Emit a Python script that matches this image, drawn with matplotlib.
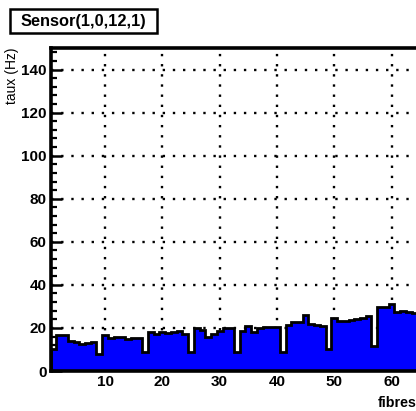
import matplotlib
matplotlib.use("Agg")
import matplotlib.pyplot as plt
import numpy as np
from matplotlib.ticker import MultipleLocator
from matplotlib.patches import Rectangle

# ---- data ----
fibres = list(range(1, 65))
taux = [10, 16.5, 16.5, 14, 13.5, 12.5, 13, 13.5,
        8, 16.5, 15.5, 15.7, 15.7, 15, 15.5, 15.5,
        9, 18, 17, 18, 17.5, 18, 18.5, 17.3,
        9, 20, 19, 16, 17.3, 18.8, 20, 20,
        8.7, 18.8, 20.8, 18, 19.8, 20.3, 20.3, 20.3,
        9, 21.4, 22.6, 22.6, 26, 21.9, 21.4, 20.8,
        10, 24.5, 23, 23.4, 23.7, 24.2, 24.5, 25.4,
        11.5, 29.6, 29.6, 31, 27.6, 28, 27.3, 27]
title = "Sensor(1,0,12,1)"
xlabel = "fibres"
ylabel = "taux (Hz)"
xticks = [10, 20, 30, 40, 50, 60]
yticks = [0, 20, 40, 60, 80, 100, 120, 140]

plt.rcParams['font.family'] = ['Liberation Sans', 'DejaVu Sans']

W, H = 416, 411
fig = plt.figure(figsize=(W / 100, H / 100), dpi=100)

xmin, xmax = 0.5, 72.5
px_per_unit = 5.73
left_px, top_px, bottom_px = 50.6, 48, 371
ax_w = (xmax - xmin) * px_per_unit
ax = fig.add_axes([left_px / W, 1 - bottom_px / H, ax_w / W, (bottom_px - top_px) / H])

edges = np.arange(len(fibres) + 1) + 0.5

# grid drawn under the histogram
for yv in yticks[1:]:
    ax.axhline(yv, color='black', lw=1.7, ls=(0, (1, 3.3)), zorder=1)
for xv in xticks:
    ax.axvline(xv, color='black', lw=1.7, ls=(0, (1, 3.3)), zorder=1)

ax.stairs(taux, edges, fill=True, color='#0000ff', zorder=2)
ax.stairs(taux, edges, baseline=0, color='black', lw=2, zorder=2.2)

ax.set_xlim(xmin, xmax)
ax.set_ylim(0, 150)
ax.set_xticks(xticks)
ax.set_yticks(yticks)
ax.xaxis.set_minor_locator(MultipleLocator(2))
ax.yaxis.set_minor_locator(MultipleLocator(4))
ax.tick_params(which='major', direction='in', length=8, width=1.8,
               labelsize=11, top=False, right=False, pad=3)
ax.tick_params(which='minor', direction='in', length=4.5, width=1.6,
               top=False, right=False)
for lab in ax.get_xticklabels() + ax.get_yticklabels():
    lab.set_fontweight('bold')
for sp in ax.spines.values():
    sp.set_linewidth(2.6)

# title box (ROOT style pave)
fig.patches.append(Rectangle((10 / W, 1 - 33 / H), 147 / W, 24 / H,
                             transform=fig.transFigure, fc='white', ec='black',
                             lw=1.8, zorder=3))
fig.text(83.5 / W, 1 - 21.5 / H, title, ha='center', va='center',
         fontsize=11.8, fontweight='bold', zorder=4)

# axis titles
fig.text(12 / W, 1 - 48 / H, ylabel, rotation=90, ha='center', va='top', fontsize=10)
fig.text(378 / W, 1 - 403 / H, xlabel, ha='left', va='center', fontsize=10.3, fontweight='bold')

fig.savefig("out.png", dpi=100)
